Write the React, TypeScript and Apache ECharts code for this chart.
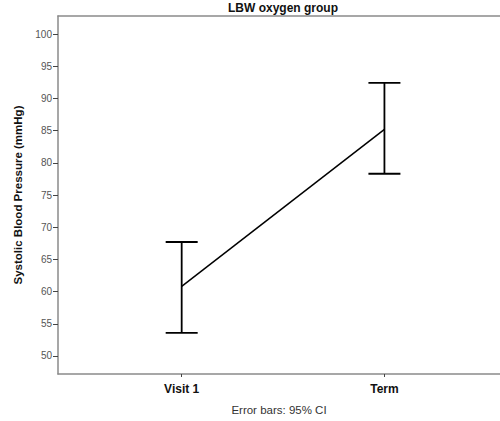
import React, { useEffect, useRef } from "react";
import * as echarts from "echarts";

const categories = ["Visit 1", "Term"];
const means = [60.8, 85.2];
const lowerCI = [53.6, 78.3];
const upperCI = [67.7, 92.4];
const yTicks = [50, 55, 60, 65, 70, 75, 80, 85, 90, 95, 100];

const FONT = "Arial, 'Liberation Sans', sans-serif";
const X_MIN = -0.61;
const X_MAX = 1.57;

export default function App() {
  const ref = useRef<HTMLDivElement>(null);
  useEffect(() => {
    if (!ref.current) return;
    const chart = echarts.init(ref.current, null, { renderer: "svg" });
    const linePoints = means.map((m, i) => [i, m]);
    const errData = means.map((_, i) => [i, lowerCI[i], upperCI[i]]);
    chart.setOption({
      animation: false,
      backgroundColor: "#fff",
      grid: {
        left: 58,
        top: 16,
        right: 0,
        bottom: 43,
        show: false,
      },
      graphic: [
        {
          type: "text",
          x: 283,
          y: 8,
          style: {
            text: "LBW oxygen group",
            font: `bold 12px ${FONT}`,
            fill: "#111",
            align: "center",
            verticalAlign: "middle",
          },
        },
      ],
      xAxis: [
        {
          type: "value",
          min: X_MIN,
          max: X_MAX,
          splitLine: { show: false },
          axisLine: { show: true, onZero: false, lineStyle: { color: "#8a8a8a", width: 1.5 } },
          axisTick: {
            show: true,
            length: 3,
            customValues: [0, 1],
            lineStyle: { color: "#444" },
          },
          axisLabel: {
            customValues: [0, 1],
            formatter: (v: number) => categories[Math.round(v)] ?? "",
            fontFamily: FONT,
            fontSize: 12,
            fontWeight: "bold",
            color: "#111",
            margin: 9,
          },
          name: "Error bars: 95% CI",
          nameLocation: "middle",
          nameGap: 30,
          nameTextStyle: { fontFamily: FONT, fontSize: 11.5, color: "#333" },
        },
        {
          type: "value",
          position: "top",
          min: X_MIN,
          max: X_MAX,
          splitLine: { show: false },
          axisLine: { show: true, onZero: false, lineStyle: { color: "#8a8a8a", width: 1.5 } },
          axisTick: { show: false },
          axisLabel: { show: false },
        },
      ],
      yAxis: {
        type: "value",
        min: 47.2,
        max: 102.8,
        splitLine: { show: false },
        axisLine: { show: true, onZero: false, lineStyle: { color: "#8a8a8a", width: 1.5 } },
        axisTick: {
          show: true,
          length: 5,
          customValues: yTicks,
          lineStyle: { color: "#444" },
        },
        axisLabel: {
          customValues: yTicks,
          fontFamily: FONT,
          fontSize: 10,
          color: "#555",
          margin: 6,
        },
        name: "Systolic Blood Pressure (mmHg)",
        nameLocation: "middle",
        nameGap: 31,
        nameTextStyle: {
          fontFamily: FONT,
          fontSize: 11.5,
          fontWeight: "bold",
          color: "#111",
        },
      },
      series: [
        {
          type: "line",
          data: linePoints,
          showSymbol: false,
          symbol: "none",
          lineStyle: { color: "#000", width: 1.5 },
        },
        {
          type: "custom",
          data: errData,
          renderItem: (params: any, api: any) => {
            const x = api.value(0);
            const lo = api.coord([x, api.value(1)]);
            const hi = api.coord([x, api.value(2)]);
            const hw = 16;
            const style = { stroke: "#000", lineWidth: 1.8 };
            return {
              type: "group",
              children: [
                { type: "line", shape: { x1: lo[0], y1: lo[1], x2: hi[0], y2: hi[1] }, style },
                { type: "line", shape: { x1: lo[0] - hw, y1: lo[1], x2: lo[0] + hw, y2: lo[1] }, style },
                { type: "line", shape: { x1: hi[0] - hw, y1: hi[1], x2: hi[0] + hw, y2: hi[1] }, style },
              ],
            };
          },
        },
      ],
    });
    return () => chart.dispose();
  }, []);
  return (
    <div
      ref={ref}
      style={{ position: "fixed", left: 0, top: 0, width: 500, height: 421 }}
    />
  );
}
